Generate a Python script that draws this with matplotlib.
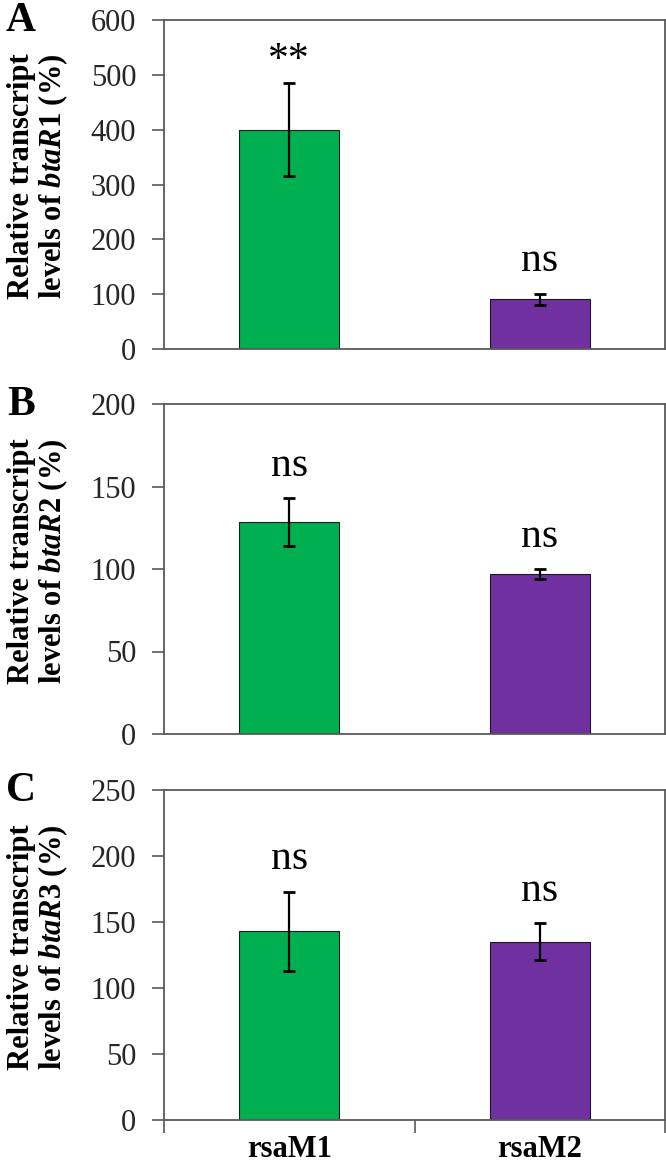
import matplotlib
matplotlib.use('Agg')
import matplotlib.pyplot as plt
import numpy as np

plt.rcParams['font.family'] = 'Liberation Serif'
plt.rcParams['mathtext.fontset'] = 'custom'
plt.rcParams['mathtext.rm'] = 'Liberation Serif:bold'
plt.rcParams['mathtext.it'] = 'Liberation Serif:italic:bold'

# data
strains = ['rsaM1', 'rsaM2']
genes = ['btaR1', 'btaR2', 'btaR3']
panels = ['A', 'B', 'C']
means = [[400, 91], [128.5, 97], [143, 135]]
errors = [[85, 10], [14.3, 3], [30, 14]]
signif = [['**', 'ns'], ['ns', 'ns'], ['ns', 'ns']]
ymax = [600, 200, 250]
ystep = [100, 50, 50]

colors = ['#00B050', '#7030A0']
axis_col = '#595959'

fig = plt.figure(figsize=(6.66, 11.66), dpi=100)
W, H = 666, 1166
boxes = [(20, 349), (404, 734), (790, 1120)]

for i in range(3):
    top, bot = boxes[i]
    ax = fig.add_axes([164 / W, (H - bot) / H, 501 / W, (bot - top) / H])
    x = np.arange(1, 3)
    ax.bar(x, means[i], width=0.4, color=colors, edgecolor='#1a1a1a', linewidth=0.8, zorder=2)
    ax.errorbar(x, means[i], yerr=errors[i], fmt='none', ecolor='black',
                elinewidth=1.6, capsize=4, capthick=2, zorder=3)
    for j in range(2):
        off = 9 if signif[i][j] == '**' else 16
        ax.annotate(signif[i][j], (x[j], means[i][j] + errors[i][j]),
                    xytext=(0, off), textcoords='offset points',
                    ha='center', va='baseline', fontsize=30)
    ax.set_xlim(0.5, 2.5)
    ax.set_ylim(0, ymax[i])
    ax.set_yticks(np.arange(0, ymax[i] + 1, ystep[i]))
    ax.tick_params(axis='y', direction='out', length=9, width=1.2, color=axis_col,
                   labelsize=22, labelcolor='#262626', pad=11)
    for s in ax.spines.values():
        s.set_color(axis_col)
        s.set_linewidth(1.3)
    if i == 2:
        ax.set_xticks([0.5, 1.5, 2.5])
        ax.set_xticklabels([])
        ax.set_xticks([1, 2], minor=True)
        ax.set_xticklabels(strains, minor=True, fontsize=22, fontweight='bold')
        ax.tick_params(axis='x', which='major', direction='out', length=9, width=1.2, color=axis_col)
        ax.tick_params(axis='x', which='minor', length=0, pad=11)
    else:
        ax.set_xticks([])
    ax.text(-0.25, 0.525, 'Relative transcript\nlevels of $\\it{' + genes[i] + '}$ (%)',
            transform=ax.transAxes, rotation=90, ha='center', va='center',
            fontsize=22, fontweight='bold', multialignment='center', linespacing=1.0)
    fig.text(21 / W, 1 - (top + 1) / H, panels[i], ha='center', va='center',
             fontsize=30, fontweight='bold')

fig.savefig('out.png', dpi=100)
